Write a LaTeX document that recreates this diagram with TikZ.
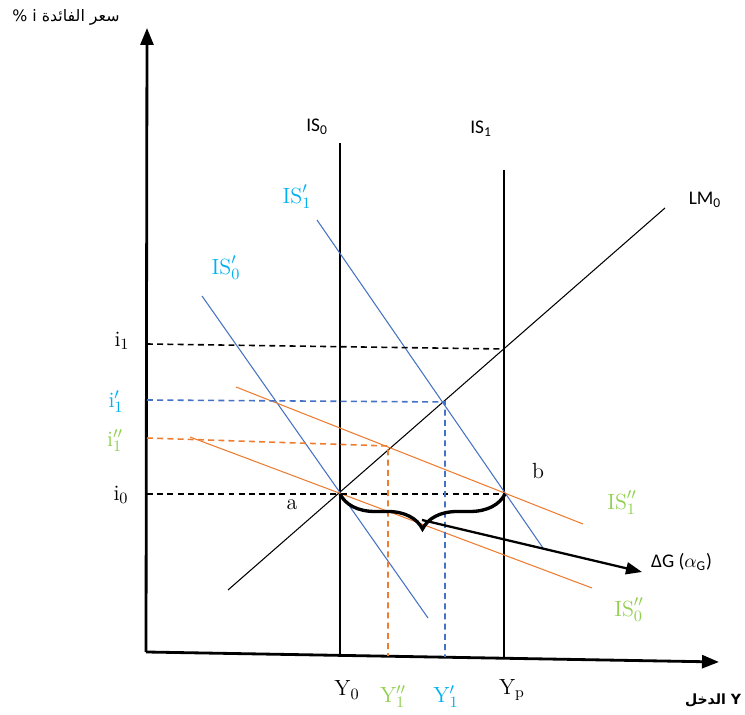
\documentclass[tikz,border=0pt]{standalone}
\usepackage{fontspec}
\setsansfont{Carlito}
\newfontfamily\arabicfont[Script=Arabic]{DejaVu Sans}
\TeXXeTstate=1
\usetikzlibrary{arrows.meta,decorations.pathreplacing}
\definecolor{isblue}{HTML}{4472C4}
\definecolor{isorange}{HTML}{ED7D31}
\definecolor{cyanlbl}{HTML}{00B0F0}
\definecolor{greenlbl}{HTML}{92D050}

\begin{document}
\begin{tikzpicture}[
 x=0.02cm,y=-0.02cm,
 axis/.style={line width=1.6pt,-{Triangle[length=3.4mm,width=2.6mm]}},
 curve/.style={line width=0.6pt},
 guide/.style={line width=0.9pt,dash pattern=on 3.4pt off 2.4pt},
 lbl/.style={font=\fontsize{12.5}{14}\selectfont,inner sep=1pt},
 slbl/.style={font=\sffamily\fontsize{11}{13}\selectfont,inner sep=1pt},
 arab/.style={font=\arabicfont\fontsize{9}{11}\selectfont,inner sep=1pt},
 gbrace/.style={line width=1.9pt,decorate,decoration={brace,mirror,amplitude=0.7cm}},
 garr/.style={line width=1.3pt,-{Triangle[length=3.2mm,width=2.4mm]}}
]
\useasboundingbox (0,0) rectangle (745,715);
% axes
\coordinate (O) at (146,652);
\coordinate (ytop) at (147,28);
\coordinate (xend) at (719,662);
\draw[axis] (O) -- (ytop);
\draw[axis] (O) -- (xend);
\node[arab] (ylab) at (66,17) {\beginR سعر الفائدة i \%\endR};
\node[arab,font=\arabicfont\bfseries\fontsize{8}{10}\selectfont] (xlab) at (713,700) {\beginR Y الدخل\endR};

% equilibrium points
\coordinate (a) at (340,494);
\coordinate (b) at (505,494);
\coordinate (e1) at (504,349);
\coordinate (e2) at (445,402);
\coordinate (e3) at (388,446);

% curves
\draw[curve] (340,143) coordinate (is0top) -- (340,655) coordinate (is0foot);
\draw[curve] (504,170) coordinate (is1top) -- (504,658) coordinate (is1foot);
\draw[curve] (228,590) coordinate (lmlo) -- (665,208) coordinate (lmhi);
\draw[curve,isblue] (202,296) coordinate (is0pa) -- (428,618) coordinate (is0pb);
\draw[curve,isblue] (317,220) coordinate (is1pa) -- (543,548) coordinate (is1pb);
\draw[curve,isorange] (236,387) coordinate (is1qa) -- (583,524) coordinate (is1qb);
\draw[curve,isorange] (190,437) coordinate (is0qa) -- (592,588) coordinate (is0qb);

% guide lines
\draw[guide] (147,344) coordinate (i1) -- (e1);
\draw[guide] (147,494) coordinate (i0) -- (b);
\draw[guide,isblue] (147,400) coordinate (i1p) -- (e2) -- (445,657) coordinate (y1p);
\draw[guide,isorange] (147,438) coordinate (i1pp) -- (e3) -- (388,656) coordinate (y1pp);

% brace and shift
\draw[gbrace] (a) -- (b);
\coordinate (gtip) at (422,520);
\coordinate (gend) at (642,572);
\draw[garr] (gtip) -- (gend);
\node[slbl,anchor=west] (dG) at (649,562) {ΔG ($\alpha_{\mathsf{G}}$)};

% labels
\node[slbl] (lis0) at (317,127) {IS\textsubscript{0}};
\node[slbl] (lis1) at (481,129) {IS\textsubscript{1}};
\node[slbl] (llm0) at (705,200) {LM\textsubscript{0}};
\node[lbl,cyanlbl] (lis0p) at (226,268) {$\mathrm{IS}_0'$};
\node[lbl,cyanlbl] (lis1p) at (297,197) {$\mathrm{IS}_1'$};
\node[lbl,greenlbl] (lis1pp) at (622,503) {$\mathrm{IS}_1''$};
\node[lbl,greenlbl] (lis0pp) at (629,610) {$\mathrm{IS}_0''$};
\node[lbl] (la) at (292,505) {a};
\node[lbl] (lb) at (538,471) {b};
\node[lbl] (li1) at (122,341) {$\mathrm{i}_1$};
\node[lbl,cyanlbl] (li1p) at (116,402) {$\mathrm{i}_1'$};
\node[lbl,greenlbl] (li1pp) at (115,441) {$\mathrm{i}_1''$};
\node[lbl] (li0) at (121,495) {$\mathrm{i}_0$};
\node[lbl] (ly0) at (347,690) {$\mathrm{Y}_0$};
\node[lbl,greenlbl] (ly1pp) at (393,697) {$\mathrm{Y}_1''$};
\node[lbl,cyanlbl] (ly1p) at (446,697) {$\mathrm{Y}_1'$};
\node[lbl] (lyp) at (512,690) {$\mathrm{Y}_{\mathrm{p}}$};
\end{tikzpicture}
\end{document}
